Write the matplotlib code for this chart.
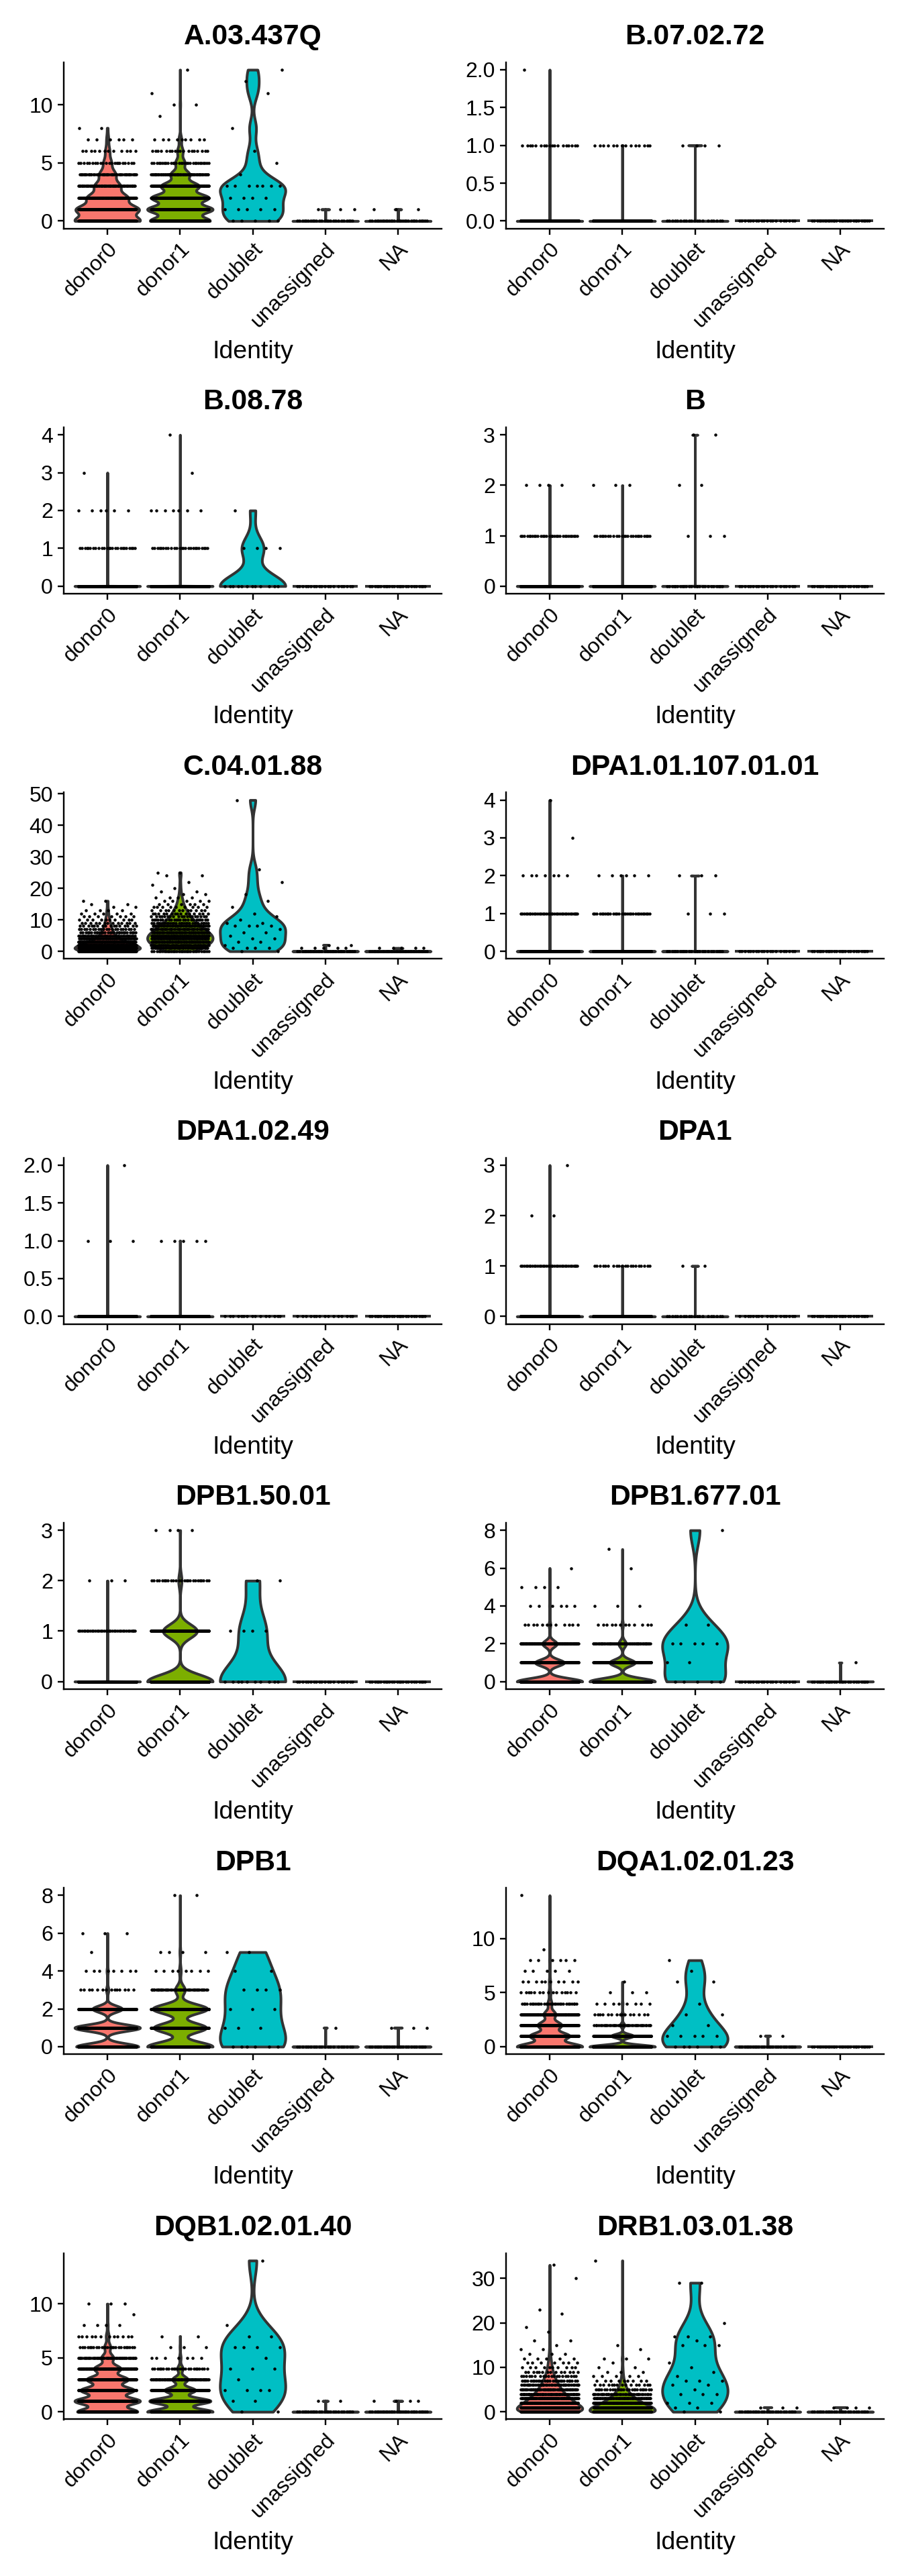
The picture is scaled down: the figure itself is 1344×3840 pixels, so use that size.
import numpy as np
import matplotlib
import matplotlib.pyplot as plt

matplotlib.use('agg')

plt.rcParams['font.family'] = ['Liberation Sans', 'DejaVu Sans']

# cell counts per integer expression value (index = value), one list per identity
IDENTS = ["donor0", "donor1", "doublet", "unassigned", "NA"]
COLORS = ["#F8766D", "#7CAE00", "#00BFC4", "#C77CFF", "#7F7F7F"]

FEATURES = ["A.03.437Q", "B.07.02.72", "B.08.78", "B", "C.04.01.88",
            "DPA1.01.107.01.01", "DPA1.02.49", "DPA1", "DPB1.50.01",
            "DPB1.677.01", "DPB1", "DQA1.02.01.23", "DQB1.02.01.40",
            "DRB1.03.01.38"]

a_03_437q = [
    [180, 170, 110, 70, 45, 22, 12, 6, 2],
    [190, 205, 180, 120, 60, 30, 18, 9, 0, 1, 2, 1, 0, 1],
    [5, 5, 4, 7, 1, 1, 1, 0, 1, 0, 0, 1, 1, 1],
    [25, 3],
    [30, 3],
]
b_07_02_72 = [[700, 18, 1], [700, 14], [20, 4], [20], [30]]
b_08_78 = [[700, 25, 6, 1], [700, 25, 7, 1, 1], [12, 4, 1], [20], [25]]
b_all = [[700, 30, 4], [700, 25, 3], [25, 3, 2, 2], [20], [25]]
c_04_01_88 = [
    [125, 150, 130, 90, 55, 38, 28, 21, 16, 13, 10, 7, 5, 4, 2, 2, 2],
    [30, 40, 50, 58, 60, 59, 52, 45, 38, 30, 24, 19, 15, 12, 9, 6, 5, 4, 2,
     2, 1, 1, 1, 0, 2, 2],
    [2, 4, 1, 2, 2, 1, 2, 1, 4, 2, 1, 1, 1, 0, 1, 0, 1, 0, 1, 0, 0, 0, 1, 0,
     0, 0, 1, 0, 0, 0, 0, 0, 0, 0, 0, 0, 0, 0, 0, 0, 0, 0, 0, 0, 0, 0, 0, 0,
     1],
    [30, 5, 2],
    [35, 5],
]
dpa1_01_107_01_01 = [[700, 35, 7, 1, 1], [700, 30, 6], [25, 3, 3], [20], [25]]
dpa1_02_49 = [[700, 3, 1], [700, 5], [15], [15], [25]]
dpa1 = [[700, 35, 2, 1], [700, 20], [20, 2], [18], [25]]
dpb1_50_01 = [[700, 35, 3], [500, 260, 25, 4], [10, 4, 2], [20], [25]]
dpb1_677_01 = [
    [500, 220, 110, 12, 6, 4, 1],
    [520, 200, 60, 12, 3, 0, 1, 1],
    [5, 2, 5, 2, 0, 0, 0, 0, 1],
    [20],
    [25, 1],
]
dpb1 = [
    [380, 400, 180, 14, 8, 1, 3],
    [300, 240, 250, 45, 8, 4, 0, 0, 2],
    [6, 3, 3, 4, 2, 2],
    [20, 1],
    [25, 3],
]
dqa1_02_01_23 = [
    [500, 300, 180, 90, 30, 15, 10, 5, 6, 1, 0, 0, 0, 0, 1],
    [600, 200, 40, 15, 8, 3, 1],
    [6, 5, 2, 2, 1, 0, 2, 1, 1],
    [25, 2],
    [30],
]
dqb1_02_01_40 = [
    [250, 270, 220, 170, 110, 50, 25, 12, 4, 1, 3],
    [300, 280, 140, 70, 25, 7, 3, 2],
    [2, 2, 4, 1, 3, 1, 4, 2, 1, 0, 0, 0, 0, 0, 1],
    [25, 2],
    [30, 4],
]
drb1_03_01_38 = [
    [150, 140, 110, 85, 65, 50, 38, 28, 20, 14, 10, 7, 5, 3, 2, 1, 2, 0, 1,
     1, 0, 0, 1, 1, 0, 0, 0, 0, 0, 0, 1, 0, 0, 1],
    [175, 150, 100, 65, 40, 25, 15, 9, 5, 3, 2, 1, 3, 0, 1, 1, 0, 0, 0, 0,
     0, 0, 0, 0, 0, 0, 0, 0, 0, 0, 0, 0, 0, 0, 1],
    [2, 2, 3, 0, 3, 1, 2, 3, 1, 1, 1, 1, 0, 0, 0, 3, 1, 3, 0, 0, 1, 0, 0, 0,
     0, 0, 0, 0, 0, 2],
    [25, 3],
    [25, 4],
]

DATA = [a_03_437q, b_07_02_72, b_08_78, b_all, c_04_01_88, dpa1_01_107_01_01,
        dpa1_02_49, dpa1, dpb1_50_01, dpb1_677_01, dpb1, dqa1_02_01_23,
        dqb1_02_01_40, drb1_03_01_38]

YTICKS = [
    [0, 5, 10],
    [0, 0.5, 1, 1.5, 2],
    [0, 1, 2, 3, 4],
    [0, 1, 2, 3],
    [0, 10, 20, 30, 40, 50],
    [0, 1, 2, 3, 4],
    [0, 0.5, 1, 1.5, 2],
    [0, 1, 2, 3],
    [0, 1, 2, 3],
    [0, 2, 4, 6, 8],
    [0, 2, 4, 6, 8],
    [0, 5, 10],
    [0, 5, 10],
    [0, 10, 20, 30],
]


def violin_shape(counts):
    vals = np.arange(len(counts))
    c = np.array(counts, dtype=float)
    sample = np.repeat(vals, counts)
    lo, hi = sample.min(), sample.max()
    if lo == hi:
        return None
    q1, q3 = np.percentile(sample, [25, 75])
    n = len(sample)
    if q3 - q1 == 0:
        # ties only: seurat's tiny noise drives the bandwidth to ~0
        bw = 1e-4
    else:
        bw = 0.9 * min(sample.std(ddof=1), (q3 - q1) / 1.34) * n ** -0.2
    grid = np.linspace(lo, hi, 512)
    dens = (c[:, None] * np.exp(-0.5 * ((grid[None, :] - vals[:, None]) / bw) ** 2)).sum(0)
    return grid, 0.45 * dens / dens.max()


def draw_panel(ax, title, groups, ticks):
    ymax = max(len(g) - 1 for g in groups)
    for pos, (counts, col) in enumerate(zip(groups, COLORS)):
        shape = violin_shape(counts)
        if shape is None:
            ax.plot([pos - 0.45, pos + 0.45], [0, 0], color='#333333', lw=1.5,
                    solid_capstyle='butt', zorder=2)
        else:
            y, half = shape
            ax.fill_betweenx(y, pos - half, pos + half, facecolor=col,
                             edgecolor='#333333', linewidth=1.5, zorder=2)
        ys = np.repeat(np.arange(len(counts)), counts)
        k = np.arange(len(ys))
        xs = pos + ((k * 0.6180339887 + 0.31) % 1.0 - 0.5) * 0.8
        ax.scatter(xs, ys, s=2.9, c='black', linewidths=0, zorder=3)

    ax.set_xlim(-0.6, 4.6)
    ax.set_ylim(-0.05 * ymax, 1.05 * ymax)
    ax.set_xticks(range(len(IDENTS)))
    ax.set_xticklabels(IDENTS, rotation=45, ha='right', va='top',
                       rotation_mode='anchor', fontsize=12)
    ax.set_yticks(ticks)
    if any(t != int(t) for t in ticks):
        ax.set_yticklabels([f'{t:.1f}' for t in ticks], fontsize=12)
    else:
        ax.set_yticklabels([f'{t:g}' for t in ticks], fontsize=12)
    ax.set_xlabel('Identity', fontsize=14, labelpad=5)
    ax.set_title(title, fontsize=16, fontweight='bold', pad=10)
    for side in ['top', 'right']:
        ax.spines[side].set_visible(False)
    for side in ['left', 'bottom']:
        ax.spines[side].set_linewidth(0.9)
    ax.tick_params(length=3.5, width=0.9, pad=2.5, colors='black')


fig = plt.figure(figsize=(7, 20), dpi=192)
W, H = 1344, 3840
for i, feat in enumerate(FEATURES):
    r, col = divmod(i, 2)
    left = [95, 754][col]
    top = 92.7 + 544.3 * r
    ax = fig.add_axes([left / W, 1 - (top + 248) / H, 563 / W, 248 / H])
    draw_panel(ax, feat, DATA[i], YTICKS[i])

fig.savefig('out.png', dpi=192)
plt.close(fig)
